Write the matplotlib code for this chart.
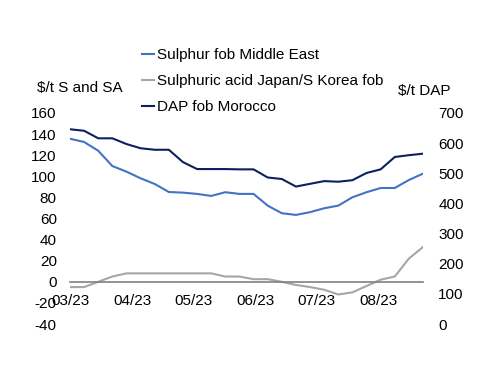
import numpy as np
import pandas as pd
import matplotlib.pyplot as plt
import matplotlib.dates as mdates

plt.rcParams['font.family'] = ['Liberation Sans', 'DejaVu Sans']
plt.rcParams['axes.unicode_minus'] = False

# weekly prices, Mar-Aug 2023
dates = pd.date_range("2023-03-01", periods=26, freq="7D")
sulphur = [135.6, 132.5, 124.2, 109.7, 104.4, 98.1, 92.7, 85.1, 84.5, 83.3, 81.4, 84.9, 83.3,
           83.3, 72.2, 65.0, 63.4, 66.0, 69.7, 72.2, 80.1, 84.9, 88.9, 88.9, 96.5, 102.5]
acid = [-5, -5, 0, 5, 8, 8, 8, 8, 8, 8, 8, 5, 5,
        2.5, 2.5, 0, -3, -5, -7.5, -12, -10, -4, 2, 5, 22, 33]
dap = [646, 641, 616, 616, 597, 583, 578, 578, 537, 514, 514, 514, 513,
       513, 486, 481, 456, 465, 474, 472, 477, 501, 513, 554, 560, 565]

labels = ["Sulphur fob Middle East", "Sulphuric acid Japan/S Korea fob", "DAP fob Morocco"]
colors = ["#4472C4", "#A6A6A6", "#0C1F5E"]

fig = plt.figure(figsize=(5.0, 3.86), dpi=100)
ax = fig.add_axes([0.14, 0.1606, 0.706, 0.5467])
ax2 = ax.twinx()

l1, = ax.plot(dates, sulphur, color=colors[0], lw=1.5)
l2, = ax.plot(dates, acid, color=colors[1], lw=1.5)
l3, = ax2.plot(dates, dap, color=colors[2], lw=1.5)

ax.set_ylim(-40, 160)
ax.set_yticks(np.arange(-40, 161, 20))
ax2.set_ylim(0, 700)
ax2.set_yticks(np.arange(0, 701, 100))
ax.set_xlim(dates[0], dates[-1])
ax.xaxis.set_major_locator(mdates.MonthLocator())
ax.xaxis.set_major_formatter(mdates.DateFormatter("%m/%y"))

for a in (ax, ax2):
    for s in ("top", "left", "right"):
        a.spines[s].set_visible(False)
ax2.spines["bottom"].set_visible(False)
ax.spines["bottom"].set_position(("data", 0))
ax.spines["bottom"].set_color("#808080")
ax.spines["bottom"].set_linewidth(1.2)

ax.tick_params(axis="x", length=0, pad=9, labelsize=11)
ax.tick_params(axis="y", length=0, pad=9.5, labelsize=11)
ax2.tick_params(axis="y", length=0, pad=11, labelsize=11)

fig.text(0.074, 0.772, "$/t S and SA", fontsize=11, va="center", ha="left")
fig.text(0.796, 0.764, "$/t DAP", fontsize=11, va="center", ha="left")

fig.legend([l1, l2, l3], labels, loc="upper left", bbox_to_anchor=(0.283, 0.875),
           frameon=False, fontsize=11, handlelength=0.85, handletextpad=0.15,
           labelspacing=0.78, borderaxespad=0, borderpad=0)

fig.savefig("out.png", dpi=100)
